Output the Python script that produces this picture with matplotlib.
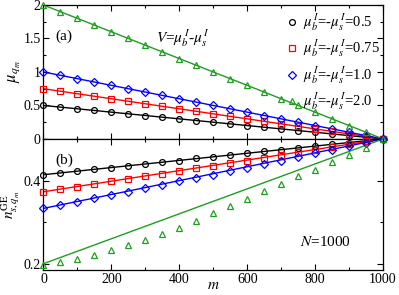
import numpy as np
import matplotlib
matplotlib.use("Agg")
import matplotlib.pyplot as plt
from matplotlib.ticker import MultipleLocator

plt.rcParams['font.family'] = ['Liberation Serif', 'DejaVu Serif']
plt.rcParams['mathtext.fontset'] = 'stix'

# m values (markers every 50)
m = [0, 50, 100, 150, 200, 250, 300, 350, 400, 450, 500,
     550, 600, 650, 700, 750, 800, 850, 900, 950, 1000]

# panel (a): mu_{q_m}
mu_05 = [0.5, 0.475, 0.45, 0.425, 0.4, 0.375, 0.35, 0.325, 0.3, 0.275, 0.25,
         0.225, 0.2, 0.175, 0.15, 0.125, 0.1, 0.075, 0.05, 0.025, 0.0]
mu_075 = [0.75, 0.7125, 0.675, 0.6375, 0.6, 0.5625, 0.525, 0.4875, 0.45, 0.4125, 0.375,
          0.3375, 0.3, 0.2625, 0.225, 0.1875, 0.15, 0.1125, 0.075, 0.0375, 0.0]
mu_10 = [1.0, 0.95, 0.9, 0.85, 0.8, 0.75, 0.7, 0.65, 0.6, 0.55, 0.5,
         0.45, 0.4, 0.35, 0.3, 0.25, 0.2, 0.15, 0.1, 0.05, 0.0]
mu_20 = [2.0, 1.9, 1.8, 1.7, 1.6, 1.5, 1.4, 1.3, 1.2, 1.1, 1.0,
         0.9, 0.8, 0.7, 0.6, 0.5, 0.4, 0.3, 0.2, 0.1, 0.0]

# panel (b): n^GE_{s,q_m} markers
n_05 = [0.414, 0.418, 0.423, 0.427, 0.431, 0.435, 0.440, 0.444, 0.448, 0.453, 0.457,
        0.461, 0.465, 0.470, 0.474, 0.478, 0.483, 0.487, 0.491, 0.496, 0.5]
n_075 = [0.373, 0.379, 0.385, 0.391, 0.398, 0.404, 0.410, 0.416, 0.423, 0.429, 0.435,
         0.442, 0.448, 0.455, 0.461, 0.468, 0.474, 0.481, 0.487, 0.494, 0.5]
n_10 = [0.333, 0.341, 0.349, 0.357, 0.365, 0.373, 0.381, 0.389, 0.398, 0.406, 0.414,
        0.423, 0.431, 0.440, 0.448, 0.457, 0.465, 0.474, 0.483, 0.491, 0.5]
n_20 = [0.198, 0.204, 0.212, 0.221, 0.233, 0.244, 0.257, 0.271, 0.287, 0.303, 0.322,
        0.338, 0.356, 0.374, 0.392, 0.410, 0.426, 0.445, 0.462, 0.479, 0.5]

# panel (b): straight lines (end points)
m_line = [0, 1000]
nl_05 = [0.414, 0.5]
nl_075 = [0.373, 0.5]
nl_10 = [0.333, 0.5]
nl_20 = [0.2, 0.5]

colors = ['black', '#ff0000', '#0000ff', '#1f9e1f']
markers = ['o', 's', 'D', '^']
msizes = [4.2, 3.8, 3.6, 4.4]
labels = [r'$\mu^{\,I}_{b}$=-$\mu^{\,I}_{s}$=0.5',
          r'$\mu^{\,I}_{b}$=-$\mu^{\,I}_{s}$=0.75',
          r'$\mu^{\,I}_{b}$=-$\mu^{\,I}_{s}$=1.0',
          r'$\mu^{\,I}_{b}$=-$\mu^{\,I}_{s}$=2.0']

fig = plt.figure(figsize=(3.99, 2.95), dpi=100)
ax1 = fig.add_axes([0.109, 0.529, 0.851, 0.454])
ax2 = fig.add_axes([0.109, 0.085, 0.851, 0.444])

top_series = [mu_05, mu_075, mu_10, mu_20]
bot_series = [n_05, n_075, n_10, n_20]
bot_lines = [nl_05, nl_075, nl_10, nl_20]

for i in range(4):
    ax1.plot(m, top_series[i], color=colors[i], lw=1.0, zorder=2)
    ax1.plot(m, top_series[i], ls='none', marker=markers[i], ms=msizes[i],
             mfc='none', mec=colors[i], mew=0.9, clip_on=False, zorder=3,
             label=labels[i])
    ax2.plot(m_line, bot_lines[i], color=colors[i], lw=1.0, zorder=2)
    ax2.plot(m, bot_series[i], ls='none', marker=markers[i], ms=msizes[i],
             mfc='none', mec=colors[i], mew=0.9, clip_on=False, zorder=3)

ax1.set_xlim(0, 1000)
ax1.set_ylim(0, 2)
ax2.set_xlim(0, 1000)
ax2.set_ylim(0.185, 0.5)

for ax in (ax1, ax2):
    ax.xaxis.set_major_locator(MultipleLocator(200))
    ax.xaxis.set_minor_locator(MultipleLocator(100))
    ax.tick_params(which='both', direction='in', top=True, right=True,
                   labelsize=10, pad=2)
    ax.tick_params(which='major', length=4, width=0.8)
    ax.tick_params(which='minor', length=2.5, width=0.8)
    for s in ax.spines.values():
        s.set_linewidth(0.9)

ax1.yaxis.set_major_locator(MultipleLocator(0.5))
ax1.yaxis.set_minor_locator(MultipleLocator(0.25))
ax1.set_yticks([0, 0.5, 1, 1.5, 2])
ax1.set_yticklabels(['0', '0.5', '1', '1.5', '2'])
ax1.tick_params(labelbottom=False)

ax2.yaxis.set_major_locator(MultipleLocator(0.2))
ax2.yaxis.set_minor_locator(MultipleLocator(0.1))
ax2.set_yticks([0.2, 0.4])
ax2.set_yticklabels(['0.2', '0.4'])

ax1.set_ylabel(r'$\mu_{q_m}$', fontsize=12, labelpad=1)
ax2.set_ylabel(r'$n^{\rm GE}_{s,q_m}$', fontsize=11, labelpad=1)
ax2.set_xlabel(r'$m$', fontsize=11, labelpad=-5)

ax1.text(0.035, 0.74, '(a)', transform=ax1.transAxes, fontsize=11)
ax2.text(0.035, 0.81, '(b)', transform=ax2.transAxes, fontsize=11)
ax1.text(0.33, 0.72, r'$V$=$\mu^{\,I}_{b}$-$\mu^{\,I}_{s}$', transform=ax1.transAxes,
         fontsize=11)
ax2.text(0.755, 0.18, r'$N$=1000', transform=ax2.transAxes, fontsize=11)

ax1.legend(loc='upper right', bbox_to_anchor=(1.0, 0.97), frameon=False,
           fontsize=10.5, handletextpad=0.3, labelspacing=0.35,
           borderaxespad=0.0, handlelength=1.0, borderpad=0.2)

fig.savefig('out.png', dpi=100)
